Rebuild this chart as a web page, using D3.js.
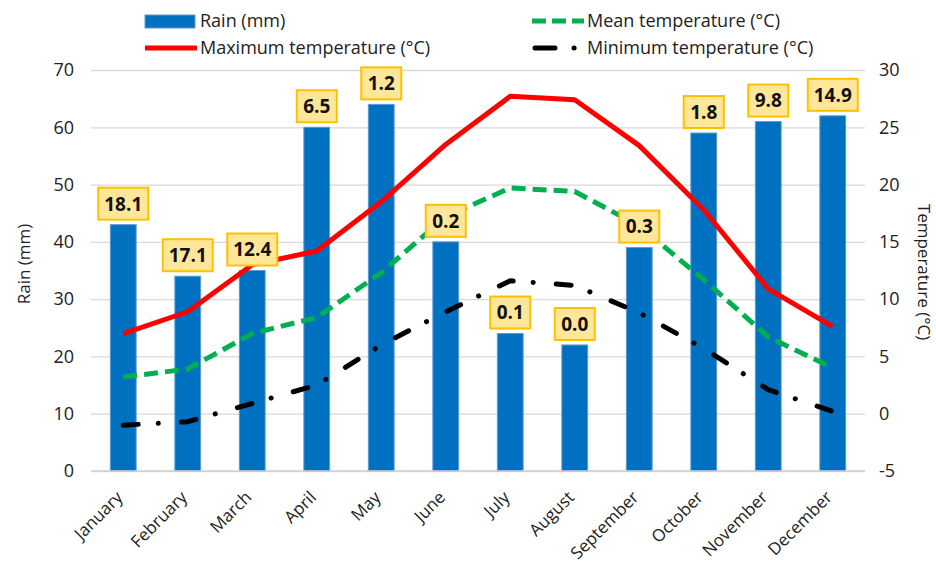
<!DOCTYPE html>
<html>
<head>
<meta charset="utf-8">
<script src="https://cdn.jsdelivr.net/npm/d3@7"></script>
<style>
  html, body { margin: 0; padding: 0; background: #fff; }
  svg { display: block; font-family: "Open Sans", "Liberation Sans", sans-serif; }
</style>
</head>
<body>
<svg id="chart" width="936" height="565"></svg>
<script>
// Monthly climate data
const months = ["January", "February", "March", "April", "May", "June",
                "July", "August", "September", "October", "November", "December"];
const rain = [43, 34, 35, 60, 64, 40, 24, 22, 39, 59, 61, 62];
const rainLabels = ["18.1", "17.1", "12.4", "6.5", "1.2", "0.2", "0.1", "0.0", "0.3", "1.8", "9.8", "14.9"];
const maxTemp = [7.0, 8.9, 13.0, 14.2, 18.5, 23.5, 27.7, 27.4, 23.4, 17.8, 10.9, 7.6];
const meanTemp = [3.2, 3.9, 7.0, 8.4, 12.3, 17.2, 19.7, 19.4, 16.4, 11.7, 6.7, 4.0];
const minTemp = [-1.0, -0.7, 0.9, 2.5, 6.0, 8.9, 11.6, 11.2, 8.8, 5.7, 2.1, 0.2];
const rainTicks = [0, 10, 20, 30, 40, 50, 60, 70];
const tempTicks = [-5, 0, 5, 10, 15, 20, 25, 30];

const svg = d3.select("#chart");
const plot = { left: 91, right: 865, top: 70, bottom: 471 };

const x = d3.scaleBand().domain(months).range([plot.left, plot.right]).paddingInner(0.6).paddingOuter(0.3);
const xc = m => x(m) + x.bandwidth() / 2;
const yRain = d3.scaleLinear().domain([0, 70]).range([plot.bottom, plot.top]);
const yTemp = d3.scaleLinear().domain([-5, 30]).range([plot.bottom, plot.top]);
const plain = d => String(d);

// Gridlines
svg.append("g")
  .attr("transform", `translate(${plot.left},0)`)
  .call(d3.axisLeft(yRain).tickValues(rainTicks).tickSize(-(plot.right - plot.left)).tickFormat(""))
  .call(g => g.select(".domain").remove())
  .call(g => g.selectAll("line").attr("stroke", "#d9d9d9").attr("stroke-width", 1.3));

// Left axis
svg.append("g")
  .attr("transform", `translate(${plot.left},0)`)
  .call(d3.axisLeft(yRain).tickValues(rainTicks).tickSize(0).tickPadding(17).tickFormat(plain))
  .call(g => g.select(".domain").remove())
  .call(g => g.selectAll("text").attr("font-size", 18).attr("fill", "#222")
    .attr("font-family", "'Open Sans', sans-serif"));

// Right axis
svg.append("g")
  .attr("transform", `translate(${plot.right},0)`)
  .call(d3.axisRight(yTemp).tickValues(tempTicks).tickSize(0).tickPadding(14).tickFormat(plain))
  .call(g => g.select(".domain").remove())
  .call(g => g.selectAll("text").attr("font-size", 18).attr("fill", "#222")
    .attr("font-family", "'Open Sans', sans-serif"));

// Bars
svg.append("g").selectAll("rect")
  .data(months)
  .join("rect")
  .attr("x", m => x(m))
  .attr("y", (m, i) => yRain(rain[i]))
  .attr("width", x.bandwidth())
  .attr("height", (m, i) => yRain(0) - yRain(rain[i]))
  .attr("fill", "#0070c0")
  .attr("stroke", "#5b9bd5")
  .attr("stroke-width", 1);

// Baseline
svg.append("line")
  .attr("x1", plot.left).attr("x2", plot.right)
  .attr("y1", yRain(0)).attr("y2", yRain(0))
  .attr("stroke", "#d0d0d0").attr("stroke-width", 1.5);

// Temperature lines
const lineFor = vals => d3.line().x((d, i) => xc(months[i])).y(d => yTemp(d))(vals);

svg.append("path").attr("d", lineFor(minTemp))
  .attr("fill", "none").attr("stroke", "#000").attr("stroke-width", 5)
  .attr("stroke-dasharray", "15,20,0.1,23").attr("stroke-linecap", "round");
svg.append("path").attr("d", lineFor(meanTemp))
  .attr("fill", "none").attr("stroke", "#00b050").attr("stroke-width", 5)
  .attr("stroke-dasharray", "14,7");
svg.append("path").attr("d", lineFor(maxTemp))
  .attr("fill", "none").attr("stroke", "#ff0000").attr("stroke-width", 5)
  .attr("stroke-linejoin", "round");

// Value labels above bars
const lab = svg.append("g").selectAll("g")
  .data(months)
  .join("g")
  .attr("transform", (m, i) => `translate(${xc(m)},${yRain(rain[i]) - 21})`);
lab.append("rect")
  .attr("x", (m, i) => rainLabels[i].length > 3 ? -25 : -20)
  .attr("y", -16)
  .attr("width", (m, i) => rainLabels[i].length > 3 ? 50 : 40)
  .attr("height", 32)
  .attr("fill", "#ffe699").attr("stroke", "#ffc000").attr("stroke-width", 2);
lab.append("text")
  .attr("text-anchor", "middle").attr("dy", "0.36em")
  .attr("font-size", 19).attr("font-weight", "bold").attr("fill", "#111")
  .text((m, i) => rainLabels[i]);

// Month labels
svg.append("g").selectAll("text")
  .data(months)
  .join("text")
  .attr("transform", m => `translate(${xc(m) - 8},${plot.bottom + 19}) rotate(-45)`)
  .attr("text-anchor", "end").attr("dy", "0.7em")
  .attr("font-size", 17).attr("fill", "#222")
  .text(m => m);

// Axis titles
svg.append("text")
  .attr("transform", `translate(30,264) rotate(-90)`)
  .attr("text-anchor", "middle").attr("font-size", 17).attr("fill", "#222")
  .text("Rain (mm)");
svg.append("text")
  .attr("transform", `translate(918,272) rotate(90)`)
  .attr("text-anchor", "middle").attr("font-size", 17).attr("fill", "#222")
  .text("Temperature (°C)");

// Legend
const legend = svg.append("g");
const items = [
  { label: "Rain (mm)", x: 145, y: 21, type: "bar" },
  { label: "Maximum temperature (°C)", x: 145, y: 48, type: "max" },
  { label: "Mean temperature (°C)", x: 532, y: 21, type: "mean" },
  { label: "Minimum temperature (°C)", x: 532, y: 48, type: "min" }
];
items.forEach(it => {
  const g = legend.append("g").attr("transform", `translate(${it.x},${it.y})`);
  if (it.type === "bar") {
    g.append("rect").attr("x", 0).attr("y", -6).attr("width", 50).attr("height", 13)
      .attr("fill", "#0070c0").attr("stroke", "#5b9bd5");
  } else if (it.type === "max") {
    g.append("line").attr("x1", 0).attr("x2", 52).attr("stroke", "#ff0000").attr("stroke-width", 5);
  } else if (it.type === "mean") {
    g.append("line").attr("x1", 0).attr("x2", 52).attr("stroke", "#00b050").attr("stroke-width", 5)
      .attr("stroke-dasharray", "14,6");
  } else {
    g.append("line").attr("x1", 3).attr("x2", 50).attr("stroke", "#000").attr("stroke-width", 5)
      .attr("stroke-dasharray", "20,19,0.1,40").attr("stroke-linecap", "round");
  }
  g.append("text").attr("x", 55).attr("dy", "0.35em")
    .attr("font-size", 18).attr("fill", "#222").text(it.label);
});
</script>
</body>
</html>
